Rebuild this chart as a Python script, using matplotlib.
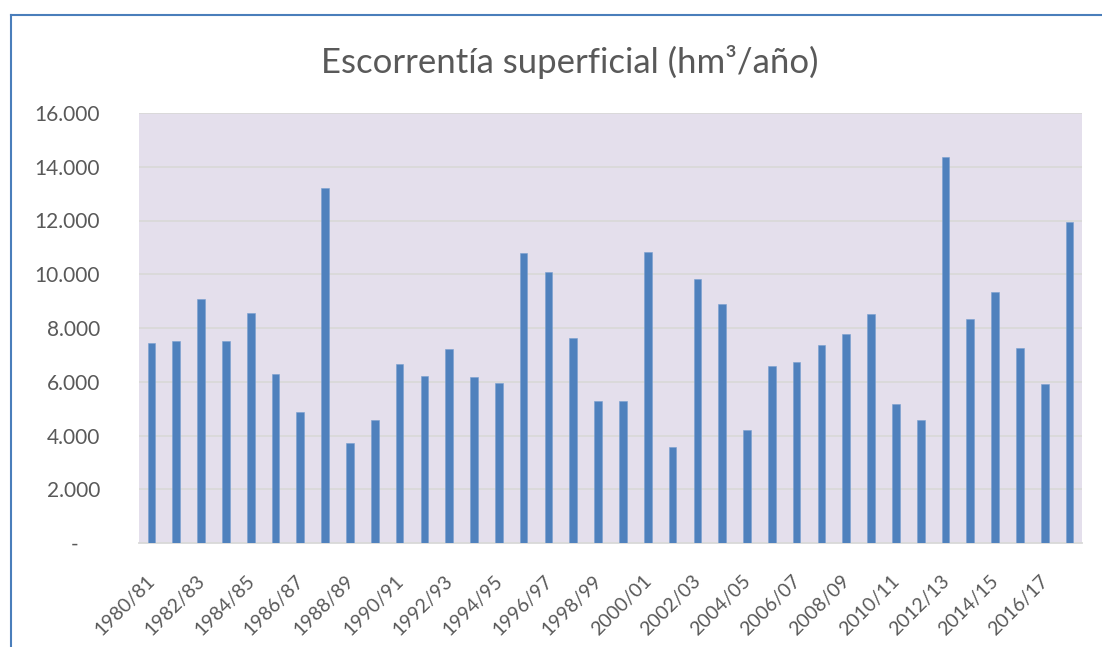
import numpy as np
import matplotlib.pyplot as plt
from matplotlib.lines import Line2D
from matplotlib.transforms import ScaledTranslation

# hydrological years 1980/81 .. 2017/18
years = ['%d/%02d' % (y, (y + 1) % 100) for y in range(1980, 2018)]
runoff = [7430, 7520, 9090, 7520, 8560, 6270, 4870, 13220, 3710, 4580,
          6670, 6200, 7220, 6190, 5950, 10800, 10100, 7630, 5300, 5300,
          10820, 3580, 9840, 8880, 4190, 6570, 6730, 7350, 7760, 8510,
          5190, 4570, 14350, 8320, 9330, 7270, 5900, 11960]
yticks = [0, 2000, 4000, 6000, 8000, 10000, 12000, 14000, 16000]
ylabels = ['-    ', '2.000', '4.000', '6.000', '8.000', '10.000', '12.000', '14.000', '16.000']

plt.rcParams['font.family'] = ['Lato', 'DejaVu Sans']
txt = '#595959'

fig = plt.figure(figsize=(11.02, 6.47), dpi=100)
ax = fig.add_axes([139/1102, 1 - 543/647, (1082 - 139)/1102, (543 - 113)/647])
ax.set_facecolor('#E4DFEC')

x = np.arange(len(years))
ax.bar(x, runoff, width=0.31, color='#4F81BD', edgecolor='#7A9FD0', linewidth=0.4, zorder=3)

ax.set_xlim(-0.5, len(years) - 0.5)
ax.set_ylim(0, 16000)
ax.set_yticks(yticks)
ax.set_yticklabels(ylabels)
ax.grid(axis='y', color='#D9D9D9', linewidth=1.3, zorder=0)
for s in ['left', 'right', 'top']:
    ax.spines[s].set_visible(False)
ax.spines['bottom'].set_color('#D9D9D9')
ax.spines['bottom'].set_linewidth(1.3)
ax.tick_params(axis='y', length=0, pad=28, labelsize=15, labelcolor=txt)
ax.tick_params(axis='x', length=0, pad=16, labelsize=14, labelcolor=txt)

ax.set_xticks(x[::2])
ax.set_xticklabels(years[::2], rotation=45, ha='right', va='top')
off = ScaledTranslation(0.07, -0.07, fig.dpi_scale_trans)
for lab in ax.get_xticklabels():
    lab.set_transform(lab.get_transform() + off)

fig.text(570/1102, 1 - 62/647, 'Escorrentía superficial (hm³/año)', ha='center', va='center',
         fontsize=25, color=txt)

# chart frame (cropped on right and bottom)
bc = '#4A7EBB'
fig.add_artist(Line2D([11/1102, 11/1102], [0, 1 - 15/647], color=bc, linewidth=1.5))
fig.add_artist(Line2D([11/1102, 1], [1 - 15/647, 1 - 15/647], color=bc, linewidth=1.5))

fig.savefig('out.png', dpi=100)
